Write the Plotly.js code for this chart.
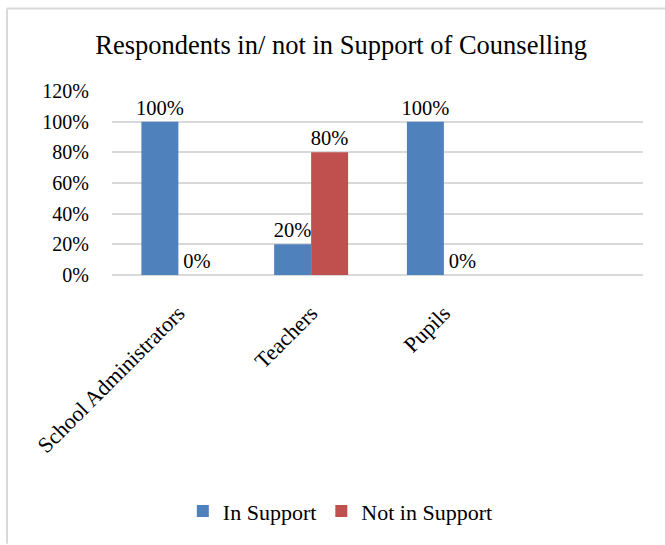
<!DOCTYPE html>
<html>
<head>
<meta charset="utf-8">
<script src="https://cdn.plot.ly/plotly-3.0.1.min.js"></script>
<style>html,body{margin:0;padding:0;background:#fff;}#chart{width:665px;height:545px;}</style>
</head>
<body>
<div id="chart"></div>
<script>
const categories = ["School Administrators", "Teachers", "Pupils"];
const inSupport = [1.00, 0.20, 1.00];
const notInSupport = [0.00, 0.80, 0.00];
const seriesNames = ["In Support", "Not in Support"];
const yTickVals = [0, 0.2, 0.4, 0.6, 0.8, 1.0, 1.2];
const yTickText = ["0%", "20%", "40%", "60%", "80%", "100%", "120%"];

const FONT = 'Liberation Serif, Times New Roman, serif';
const textFont = {family: FONT, size: 20.5, color: '#000'};

const traces = [
  {type: 'bar', name: seriesNames[0], x: categories, y: inSupport,
   marker: {color: '#4F81BD'}, texttemplate: '%{y:.0%}', textposition: 'outside',
   constraintext: 'none', textfont: textFont, cliponaxis: false, hoverinfo: 'skip'},
  {type: 'bar', name: seriesNames[1], x: categories, y: notInSupport,
   marker: {color: '#C0504D'}, texttemplate: '%{y:.0%}', textposition: 'outside',
   constraintext: 'none', textfont: textFont, cliponaxis: false, hoverinfo: 'skip'}
];

const layout = {
  width: 665, height: 545,
  margin: {l: 112, r: 22, t: 91, b: 267, pad: 0},
  paper_bgcolor: '#fff', plot_bgcolor: '#fff',
  font: {family: FONT, size: 20, color: '#000'},
  title: {text: 'Respondents in/ not in Support of Counselling',
          font: {family: FONT, size: 26.5, color: '#000'},
          xref: 'container', yref: 'container', x: 0.513, y: 0.918,
          xanchor: 'center', yanchor: 'middle'},
  barmode: 'group', bargap: 0.443, bargroupgap: 0,
  xaxis: {type: 'category', categoryorder: 'array', categoryarray: categories,
          range: [-0.5, 3.5], tickangle: -45, showgrid: false, showline: false,
          zeroline: false, ticks: '', automargin: false, ticklabelstandoff: 20,
          tickfont: {family: FONT, size: 22, color: '#000'}},
  yaxis: {range: [0, 1.2], tickvals: yTickVals, ticktext: yTickText,
          showgrid: true, gridcolor: '#D9D9D9', gridwidth: 2,
          zeroline: true, zerolinecolor: '#D9D9D9', zerolinewidth: 2,
          showline: false, ticks: '', automargin: false, ticklabelstandoff: 22,
          tickfont: {family: FONT, size: 20, color: '#000'}},
  showlegend: true,
  legend: {orientation: 'h', x: 0.43, xanchor: 'center', y: -1.17, yanchor: 'top',
           font: {family: FONT, size: 22, color: '#000'}, itemwidth: 30,
           bgcolor: 'rgba(0,0,0,0)'},
  shapes: [
    {type: 'line', xref: 'paper', yref: 'paper', x0: -0.1977, x1: 1.06, y0: 1.449, y1: 1.449,
     line: {color: '#D9D9D9', width: 2}},
    {type: 'line', xref: 'paper', yref: 'paper', x0: -0.1977, x1: -0.1977, y0: 1.449, y1: -1.46,
     line: {color: '#D9D9D9', width: 2}}
  ]
};

Plotly.newPlot('chart', traces, layout, {displayModeBar: false, staticPlot: true});
</script>
</body>
</html>
